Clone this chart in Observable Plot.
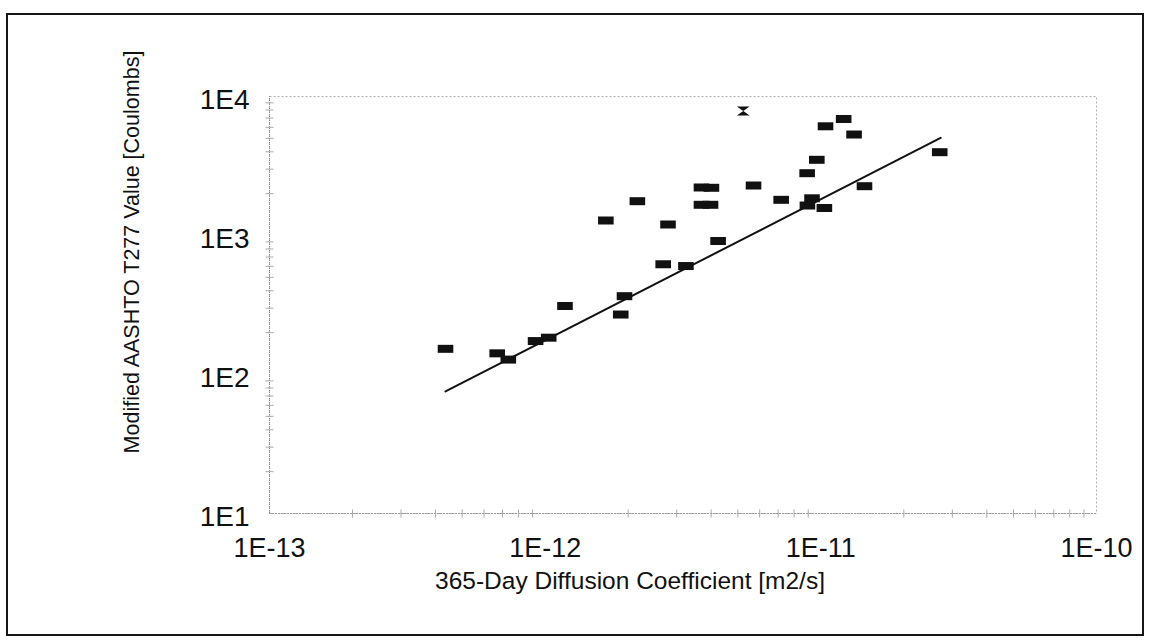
<!DOCTYPE html>
<html>
<head>
<meta charset="utf-8">
<script src="https://cdn.jsdelivr.net/npm/d3@7"></script>
<script src="https://cdn.jsdelivr.net/npm/@observablehq/plot@0.6"></script>
<style>
  html, body { margin: 0; padding: 0; background: #fff; }
  #wrap { position: relative; width: 1149px; height: 641px; overflow: hidden; }
  #border { position: absolute; left: 6px; top: 13px; width: 1138px; height: 623px;
            box-sizing: border-box; border: 2px solid #161616; pointer-events: none; }
  #chart { position: absolute; left: 0; top: 0; }
</style>
</head>
<body>
<div id="wrap"><div id="chart"></div><div id="border"></div></div>
<script>
// ---- tick values and labels ----
const xTicks = [1e-13, 1e-12, 1e-11, 1e-10];
const xTickLabels = ["1E-13", "1E-12", "1E-11", "1E-10"];
const yTicks = [10, 100, 1000, 10000];
const yTickLabels = ["1E1", "1E2", "1E3", "1E4"];

const xTitle = "365-Day Diffusion Coefficient [m2/s]";
const yTitle = "Modified AASHTO T277 Value [Coulombs]";

// ---- data ----
const diffusion = [4.35e-13, 6.70e-13, 7.35e-13, 9.23e-13, 1.03e-12, 1.18e-12, 1.66e-12, 1.88e-12,
  1.94e-12, 2.16e-12, 2.68e-12, 2.79e-12, 3.24e-12, 3.69e-12, 4.01e-12, 3.69e-12, 3.98e-12,
  4.24e-12, 5.70e-12, 7.18e-12, 8.92e-12, 9.67e-12, 1.04e-11, 1.21e-11, 1.32e-11, 9.29e-12,
  8.94e-12, 1.03e-11, 1.44e-11, 2.70e-11];
const charge = [153, 142, 128, 174, 184, 311, 1282, 270,
  366, 1765, 621, 1200, 603, 2215, 2204, 1663, 1663,
  913, 2289, 1806, 2807, 3504, 6105, 6888, 5328, 1852,
  1643, 1577, 2263, 3975];

const outlierDiffusion = [5.23e-12];
const outlierCharge = [7865];

const fitDiffusion = [4.35e-13, 2.72e-11];
const fitCharge = [75.5, 5045];

// ---- build tables ----
const points = diffusion.map((d, i) => ({x: d, y: charge[i]}));
const outliers = outlierDiffusion.map((d, i) => ({x: d, y: outlierCharge[i]}));
const fit = fitDiffusion.map((d, i) => ({x: d, y: fitCharge[i]}));

const xMinor = [], yMinor = [];
for (let e = -13; e < -10; e++) for (let m = 2; m <= 9; m++) xMinor.push(m * Math.pow(10, e));
for (let e = 1; e < 4; e++) for (let m = 2; m <= 9; m++) yMinor.push(m * Math.pow(10, e));

// ---- custom symbols ----
const rectSymbol = {draw(ctx, size) { const r = Math.sqrt(size / Math.PI); ctx.rect(-1.95 * r, -r, 3.9 * r, 2 * r); }};
const hourglass = {draw(ctx, size) { const r = Math.sqrt(size / Math.PI); const w = 1.6 * r, h = 1.1 * r;
  ctx.moveTo(-w, -h); ctx.lineTo(w, -h); ctx.lineTo(-w, h); ctx.lineTo(w, h); ctx.closePath(); }};
const vTick = {draw(ctx, size) { ctx.moveTo(0, -4); ctx.lineTo(0, 4); }};
const hTick = {draw(ctx, size) { ctx.moveTo(-4, 0); ctx.lineTo(4, 0); }};

const fmtX = d => xTickLabels[xTicks.indexOf(d)];
const fmtY = d => yTickLabels[yTicks.indexOf(d)];

const plot = Plot.plot({
  width: 1149,
  height: 641,
  marginLeft: 269,
  marginRight: 53,
  marginTop: 96,
  marginBottom: 128,
  style: {fontFamily: "'Liberation Sans', Arial, sans-serif", background: "transparent", color: "#111"},
  x: {type: "log", domain: [1e-13, 1e-10], axis: null},
  y: {type: "log", domain: [10, 10000], axis: null},
  marks: [
    Plot.frame({stroke: "#b0b0b0", strokeDasharray: "2,2"}),
    Plot.ruleX([1e-13], {stroke: "#888", strokeDasharray: "1,1"}),
    Plot.ruleY([10], {stroke: "#999", strokeDasharray: "2,1"}),
    Plot.dot(xMinor, {x: d => d, frameAnchor: "bottom", symbol: vTick, stroke: "#aaa", strokeWidth: 1}),
    Plot.dot(yMinor, {y: d => d, frameAnchor: "left", symbol: hTick, stroke: "#aaa", strokeWidth: 1}),
    Plot.axisX(xTicks, {anchor: "bottom", tickSize: 0, tickPadding: 24, tickFormat: fmtX, fontSize: 27, label: null}),
    Plot.axisY(yTicks, {anchor: "left", tickSize: 0, tickPadding: 20, tickFormat: fmtY, fontSize: 28, dy: 4, label: null}),
    Plot.text([xTitle], {frameAnchor: "bottom", text: d => d, textAnchor: "middle", dx: -53, dy: 68, fontSize: 24.5, lineAnchor: "middle", fill: "#111"}),
    Plot.text([yTitle], {frameAnchor: "left", text: d => d, textAnchor: "middle", dx: -137, dy: -53, rotate: -90, fontSize: 21.5, lineAnchor: "middle", fill: "#111"}),
    Plot.line(fit, {x: "x", y: "y", stroke: "#111", strokeWidth: 2}),
    Plot.dot(points, {x: "x", y: "y", symbol: rectSymbol, r: 4, fill: "#111", stroke: "none"}),
    Plot.dot(outliers, {x: "x", y: "y", symbol: hourglass, r: 4, fill: "#111", stroke: "none"})
  ]
});
document.getElementById("chart").appendChild(plot);
</script>
</body>
</html>
